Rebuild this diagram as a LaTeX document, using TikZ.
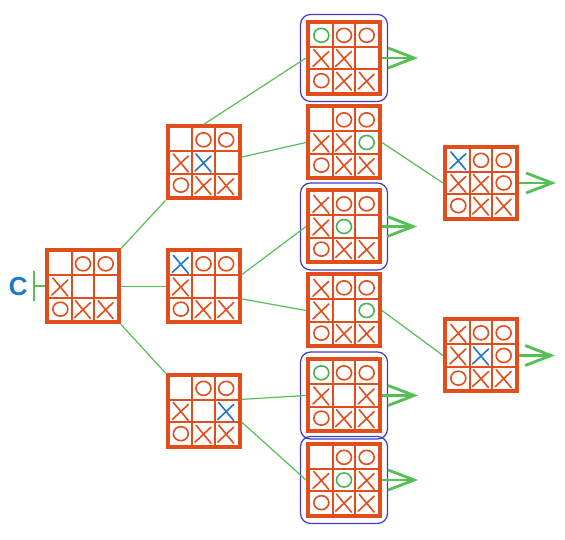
\documentclass[tikz,border=0pt]{standalone}
\usepackage{fontspec}
\setmainfont{Liberation Sans}
\usetikzlibrary{arrows.meta}

\definecolor{brd}{RGB}{226,78,27}
\definecolor{mkblue}{RGB}{30,120,200}
\definecolor{mkgreen}{RGB}{70,180,80}
\definecolor{lnk}{RGB}{85,190,85}
\definecolor{sel}{RGB}{60,60,200}

% board: name, position, extra marks (col/row/kind/colour)
\newcommand\board[3]{%
  \node[board] (#1) at (#2) {};
  \begin{scope}[shift={(#1.center)}]
    \draw[grid] (-11.33,-34) -- (-11.33,34) (11.33,-34) -- (11.33,34)
      (-34,-11.33) -- (34,-11.33) (-34,11.33) -- (34,11.33);
    \foreach \cx/\cy/\kind/\col in {2/1/o/brd,3/1/o/brd,1/2/x/brd,1/3/o/brd,2/3/x/brd,3/3/x/brd#3}{
      \if\kind x
        \draw[mk,color=\col] ({(\cx-2)*22.67-7.5},{(2-\cy)*22.67+8.5}) -- ++(15,-18)
          ({(\cx-2)*22.67-8.5},{(2-\cy)*22.67-8.5}) -- ++(16,15);
      \else
        \draw[mk,color=\col] ({(\cx-2)*22.67},{(2-\cy)*22.67}) ellipse [x radius=7.5,y radius=7];
      \fi
    }
  \end{scope}}

\begin{document}
\begin{tikzpicture}[x=0.5pt,y=0.5pt,
  board/.style={draw=brd,line width=2pt,fill=white,minimum size=36pt,inner sep=0pt},
  grid/.style={draw=brd,line width=1pt},
  mk/.style={line width=0.8pt,line cap=round},
  selbox/.style={draw=sel,line width=0.6pt,rounded corners=5pt,minimum size=43.5pt,inner sep=0pt},
  link/.style={draw=lnk,line width=0.6pt},
  more/.style={draw=lnk,line width=1.4pt,-{Straight Barb[length=13pt,width=10pt]}},
  clbl/.style={text=mkblue,font=\fontsize{13}{13}\selectfont\bfseries,inner sep=2.5pt}]
\useasboundingbox (0,0) rectangle (565,539);

\board{root}{83,252.5}{}
\board{a}{203.5,376.5}{,2/2/x/mkblue}
\board{b}{203.5,252.5}{,1/1/x/mkblue}
\board{c}{203.5,128}{,3/2/x/mkblue}
\board{d}{344,481}{,1/1/o/mkgreen,2/2/x/brd}
\board{e}{344,396.5}{,2/2/x/brd,3/2/o/mkgreen}
\board{f}{344,312.5}{,1/1/x/brd,2/2/o/mkgreen}
\board{g}{344,228.5}{,1/1/x/brd,3/2/o/mkgreen}
\board{h}{344,143.5}{,1/1/o/mkgreen,3/2/x/brd}
\board{i}{344,59}{,2/2/o/mkgreen,3/2/x/brd}
\board{j}{481,356}{,1/1/x/mkblue,2/2/x/brd,3/2/o/brd}
\board{k}{481,183.5}{,1/1/x/brd,2/2/x/mkblue,3/2/o/brd}

\node[selbox] (dsel) at (d) {};
\node[selbox] (fsel) at (f) {};
\node[selbox] (hsel) at (h) {};
\node[selbox] (isel) at (i) {};

\node[clbl,anchor=east] (clabel) at (33,252.5) {C};
\draw[link,line width=1pt,-{Bar[width=15pt]}] (root.west) -- (clabel.east);

\draw[link] (root.north east) -- (a.south west);
\draw[link] (root.east) -- (b.west);
\draw[link] (root.south east) -- (c.north west);
\draw[link] (a.north) -- (d.west);
\draw[link] (a.8) -- (e.west);
\draw[link] (b.17) -- (f.west);
\draw[link] (b.-18) -- (g.west);
\draw[link] (c.17) -- (h.west);
\draw[link] (c.-16) -- (i.west);
\draw[link] (e.east) -- (j.west);
\draw[link] (g.east) -- (k.west);

\coordinate (dnext) at (418,481);
\coordinate (fnext) at (417,312.5);
\coordinate (hnext) at (418,143.5);
\coordinate (inext) at (418,59);
\coordinate (jnext) at (556,356);
\coordinate (knext) at (555,183.5);
\draw[more] (d.east) -- (dnext);
\draw[more] (f.east) -- (fnext);
\draw[more] (h.east) -- (hnext);
\draw[more] (i.east) -- (inext);
\draw[more] (j.east) -- (jnext);
\draw[more] (k.east) -- (knext);
\end{tikzpicture}
\end{document}
